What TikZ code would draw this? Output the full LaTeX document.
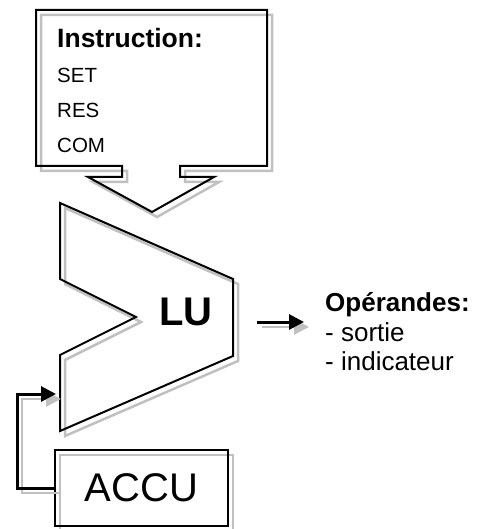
\documentclass[tikz,border=0pt]{standalone}
\usepackage{fontspec}
\setmainfont{Liberation Sans}
\usetikzlibrary{positioning,arrows.meta,calc}
\definecolor{shadowgray}{RGB}{192,192,192}
\tikzset{
  outline/.style={draw=black,line width=2pt,line join=miter},
  shadowed/.style={preaction={draw=shadowgray,line width=2.5pt,
    transform canvas={shift={(5pt,-5pt)}}}},
  flowarrow/.style={line width=3pt,-{Triangle[length=15pt,width=15pt]}},
  txt/.style={inner sep=0pt,anchor=base west},
}

\begin{document}
\begin{tikzpicture}[x=1pt,y=-1pt]
\useasboundingbox (0,0) rectangle (483,529);

% instruction callout
\draw[outline,shadowed] (36,10) -- (267,10) -- (267,166) -- (180,166) -- (180,177)
  -- (214,177) -- (152,212) -- (88,177) -- (122,177) -- (122,166) -- (36,166) -- cycle;
\node[txt,font=\bfseries\fontsize{26.5}{30}\selectfont] (instr) at (57,48) {Instruction:};
\node[txt,font=\fontsize{20.5}{24}\selectfont] (set) at (57,83) {SET};
\node[txt,font=\fontsize{20.5}{24}\selectfont] (res) at (57,118) {RES};
\node[txt,font=\fontsize{20.5}{24}\selectfont] (com) at (57,153) {COM};

% logic unit
\draw[outline,shadowed] (60,203) -- (233,279) -- (233,356) -- (60,431) -- (60,355)
  -- (136,317) -- (60,279) -- cycle;
\node[txt,font=\bfseries\fontsize{40}{48}\selectfont] (lu) at (159,325) {LU};

% operands
\node[txt,font=\bfseries\fontsize{26}{30}\selectfont] (ops) at (325,311) {Opérandes:};
\node[txt,font=\fontsize{26}{29}\selectfont] (sortie) at (325,341) {- sortie};
\node[txt,font=\fontsize{26}{29}\selectfont] (indic) at (325,370) {- indicateur};
\coordinate (opstart) at (257,322);
\coordinate (opend) at (304,322);
\draw[flowarrow,shadowed] (opstart) -- (opend);

% accumulator
\node[outline,shadowed,minimum width=173pt,minimum height=76pt,inner sep=0pt,
  font=\fontsize{40}{48}\selectfont] (accu) at (141.5,488) {ACCU};
\coordinate (fbturn) at (17,488);
\coordinate (fbtip) at (56,394);
\draw[flowarrow,shadowed] (accu.west) -- (fbturn) |- (fbtip);
\end{tikzpicture}
\end{document}
